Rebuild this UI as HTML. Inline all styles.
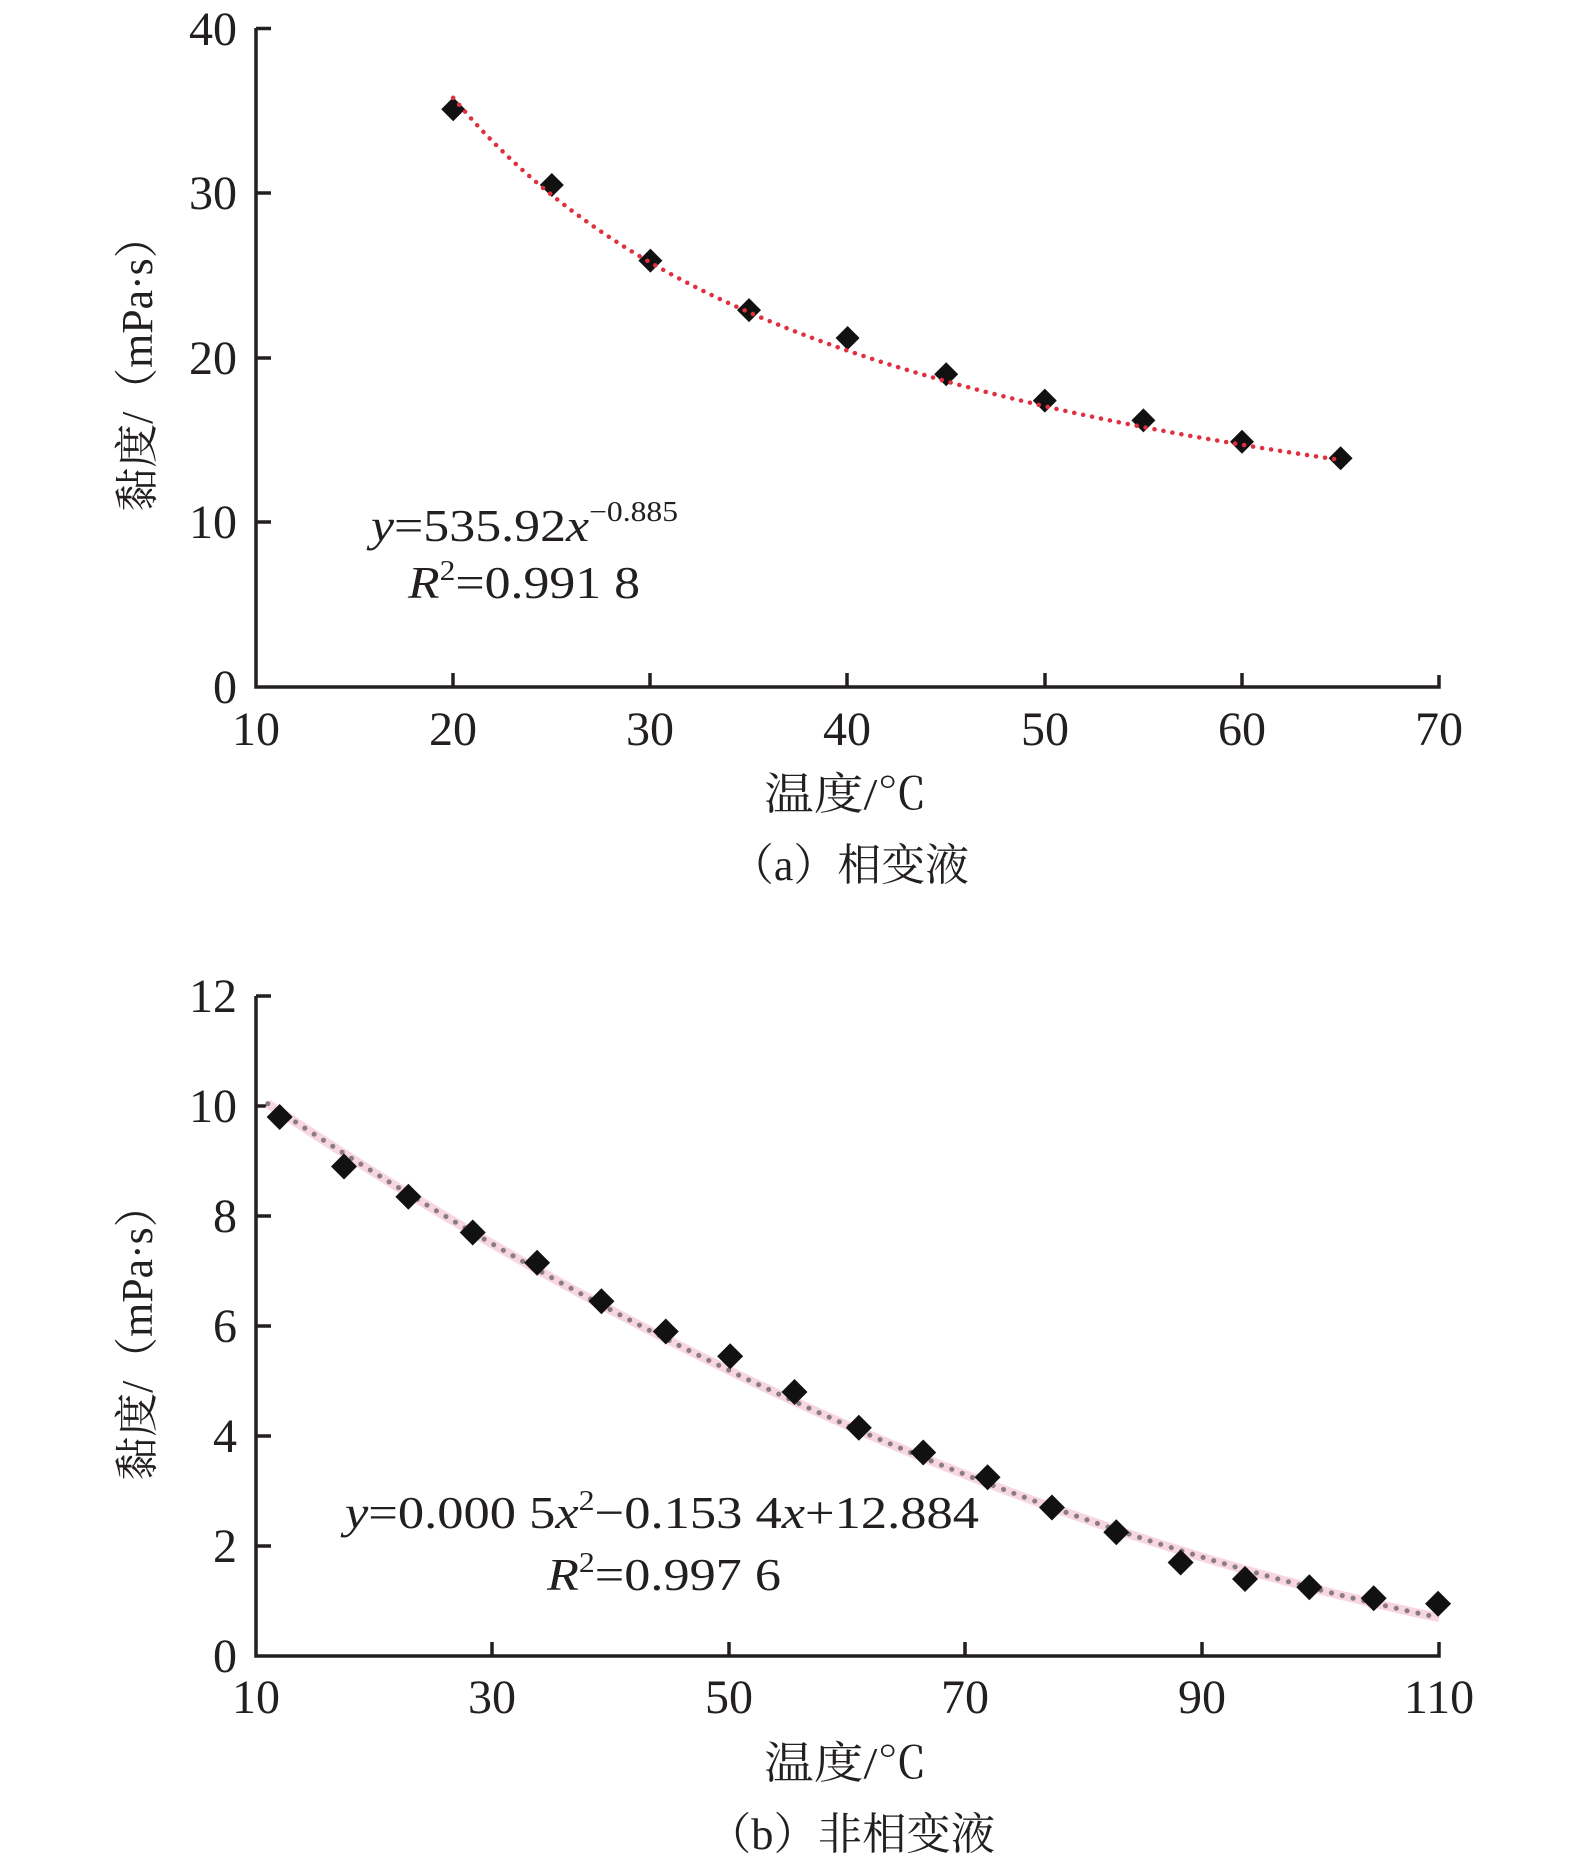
<!DOCTYPE html>
<html><head><meta charset="utf-8"><style>
html,body{margin:0;padding:0;background:#fff;}
svg{display:block;}
text{font-family:"Liberation Serif","Noto Serif CJK SC",serif;fill:#231f20;}
</style></head><body>
<svg id="s" width="1575" height="1863" viewBox="0 0 1575 1863" xmlns="http://www.w3.org/2000/svg">
<g stroke="#231f20" stroke-width="3.5" fill="none">
<polyline points="256,28 256,687 1439,687 1439,675"/>
<line x1="256" y1="28.5" x2="271" y2="28.5"/>
<line x1="256" y1="193" x2="271" y2="193"/>
<line x1="256" y1="358" x2="271" y2="358"/>
<line x1="256" y1="522" x2="271" y2="522"/>
<line x1="453" y1="687" x2="453" y2="673"/>
<line x1="650" y1="687" x2="650" y2="673"/>
<line x1="847" y1="687" x2="847" y2="673"/>
<line x1="1045" y1="687" x2="1045" y2="673"/>
<line x1="1242" y1="687" x2="1242" y2="673"/>
<polyline points="256,996 256,1656 1439,1656 1439,1642"/>
<line x1="256" y1="996" x2="271" y2="996"/>
<line x1="256" y1="1106" x2="271" y2="1106"/>
<line x1="256" y1="1216" x2="271" y2="1216"/>
<line x1="256" y1="1326" x2="271" y2="1326"/>
<line x1="256" y1="1436" x2="271" y2="1436"/>
<line x1="256" y1="1546" x2="271" y2="1546"/>
<line x1="492" y1="1656" x2="492" y2="1642"/>
<line x1="729" y1="1656" x2="729" y2="1642"/>
<line x1="965" y1="1656" x2="965" y2="1642"/>
<line x1="1202" y1="1656" x2="1202" y2="1642"/>
</g>
<g id="data"></g>
<g font-size="48" text-anchor="end">
<text x="237" y="45">40</text><text x="237" y="209">30</text><text x="237" y="374">20</text><text x="237" y="538">10</text><text x="237" y="703">0</text>
<text x="237" y="1012">12</text><text x="237" y="1122">10</text><text x="237" y="1232">8</text><text x="237" y="1342">6</text><text x="237" y="1452">4</text><text x="237" y="1562">2</text><text x="237" y="1672">0</text>
</g>
<g font-size="48" text-anchor="middle">
<text x="256" y="745">10</text><text x="453" y="745">20</text><text x="650" y="745">30</text><text x="847" y="745">40</text><text x="1045" y="745">50</text><text x="1242" y="745">60</text><text x="1439" y="745">70</text>
<text x="256" y="1713">10</text><text x="492" y="1713">30</text><text x="729" y="1713">50</text><text x="965" y="1713">70</text><text x="1202" y="1713">90</text><text x="1439" y="1713">110</text>
</g>
<g font-size="44">
<text transform="translate(152,363) rotate(-90)" text-anchor="middle" textLength="297" lengthAdjust="spacingAndGlyphs">黏度/（mPa·s）</text>
<text transform="translate(152,1332) rotate(-90)" text-anchor="middle" textLength="297" lengthAdjust="spacingAndGlyphs">黏度/（mPa·s）</text>
<text x="764" y="809" textLength="163" lengthAdjust="spacingAndGlyphs">温度/℃</text>
<text x="764" y="1778" textLength="163" lengthAdjust="spacingAndGlyphs">温度/℃</text>
<text x="730" y="880" textLength="239" lengthAdjust="spacingAndGlyphs">（a）相变液</text>
<text x="707" y="1849" textLength="288" lengthAdjust="spacingAndGlyphs">（b）非相变液</text>
</g>
<g font-size="46">
<text x="371" y="541" textLength="307" lengthAdjust="spacingAndGlyphs"><tspan font-style="italic">y</tspan>=535.92<tspan font-style="italic">x</tspan><tspan font-size="28" dy="-20">−0.885</tspan></text>
<text x="408" y="598" textLength="232" lengthAdjust="spacingAndGlyphs"><tspan font-style="italic">R</tspan><tspan font-size="28" dy="-18">2</tspan><tspan dy="18">=0.991 8</tspan></text>
<text x="345" y="1528" textLength="634" lengthAdjust="spacingAndGlyphs"><tspan font-style="italic">y</tspan>=0.000 5<tspan font-style="italic">x</tspan><tspan font-size="28" dy="-18">2</tspan><tspan dy="18">−0.153 4</tspan><tspan font-style="italic">x</tspan>+12.884</text>
<text x="547" y="1590" textLength="234" lengthAdjust="spacingAndGlyphs"><tspan font-style="italic">R</tspan><tspan font-size="28" dy="-18">2</tspan><tspan dy="18">=0.997 6</tspan></text>
</g>
</svg>
<script>
var NS="http://www.w3.org/2000/svg",g=document.getElementById("data");
function el(t,a){var e=document.createElementNS(NS,t);for(var k in a)e.setAttribute(k,a[k]);g.appendChild(e);return e;}
function ax(x){return 256+(x-10)*19.72;} function ay(y){return 687-y*16.46;}
function bx(x){return 256+(x-10)*11.83;} function by(y){return 1656-y*55;}
var pa=[],pb=[];
for(var x=20;x<=65.01;x+=0.5)pa.push(ax(x).toFixed(1)+","+ay(404*Math.pow(x,-0.809)).toFixed(1));
for(var x=11;x<=110.01;x+=0.5)pb.push(bx(x).toFixed(1)+","+by(11.687-0.1549*x+0.0005*x*x).toFixed(1));
function dia(cx,cy,r){el("polygon",{points:(cx)+","+(cy-r)+" "+(cx+r)+","+cy+" "+cx+","+(cy+r)+" "+(cx-r)+","+cy,fill:"#111"});}
var da=[[20,35.1],[25,30.5],[30,25.9],[35,22.9],[40,21.2],[45,19],[50,17.4],[55,16.2],[60,14.9],[65,13.9]];
da.forEach(function(p){dia(ax(p[0]),ay(p[1]),12);});
el("polyline",{points:pa.join(" "),fill:"none",stroke:"#e0303f","stroke-width":4.5,"stroke-dasharray":"0.1 9","stroke-linecap":"round"});
el("polyline",{points:pb.join(" "),fill:"none",stroke:"#f7d6e2","stroke-width":9});
el("polyline",{points:pb.join(" "),fill:"none",stroke:"#8a7c84","stroke-width":5,"stroke-dasharray":"0.1 11","stroke-linecap":"round"});
var db=[9.8,8.9,8.35,7.7,7.15,6.45,5.9,5.45,4.8,4.15,3.7,3.25,2.7,2.25,1.7,1.4,1.25,1.05,0.95];
db.forEach(function(y,i){dia(bx(12+i*5.44),by(y),13);});
</script>
</body></html>
